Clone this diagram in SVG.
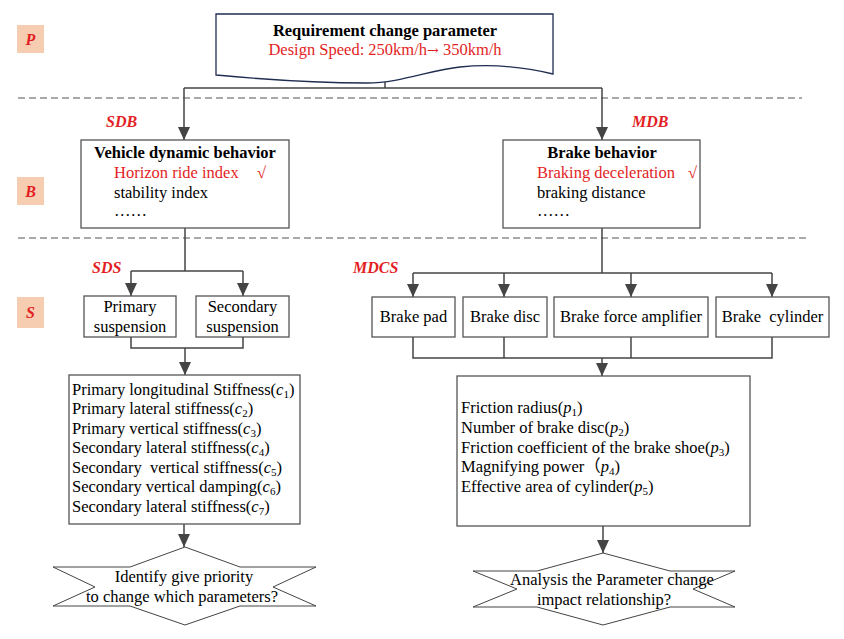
<svg xmlns="http://www.w3.org/2000/svg" width="844" height="639" viewBox="0 0 844 639">
<defs>
<marker id="arr" markerUnits="userSpaceOnUse" markerWidth="13" markerHeight="12" refX="13" refY="6" orient="auto" viewBox="0 0 13 12">
<path d="M0,0 L13,6 L0,12 Z" fill="#444"/>
</marker>
<style>
text{font-family:"Liberation Serif","Times New Roman",serif;font-size:16.5px;fill:#000}
.b{font-weight:bold}
.red{fill:#e31e24}
.lab{font-weight:bold;font-style:italic;fill:#e31e24;font-size:16px}
.box{fill:#fff;stroke:#555;stroke-width:1.3}
.tag{fill:#f6cdb0;stroke:none}
.dash{stroke:#555;stroke-width:1.1;stroke-dasharray:7 4;fill:none}
.con{stroke:#444;stroke-width:1.5;fill:none}
.it{font-style:italic}
.sub{font-size:11px}
</style>
</defs>
<rect width="844" height="639" fill="#fff"/>

<g id="dashes">
<line class="dash" x1="18" y1="98" x2="802" y2="98"/>
<line class="dash" x1="18" y1="238" x2="808" y2="238"/>
</g>

<g id="tagP"><rect class="tag" x="17" y="25" width="27" height="28"/><text class="lab" x="30.5" y="45" text-anchor="middle">P</text></g>
<g id="tagB"><rect class="tag" x="17" y="177" width="27" height="28"/><text class="lab" x="30.5" y="197" text-anchor="middle">B</text></g>
<g id="tagS"><rect class="tag" x="17" y="297" width="27" height="31"/><text class="lab" x="30.5" y="318" text-anchor="middle">S</text></g>

<g id="connectors">
<path class="con" d="M385,82 V88"/>
<path class="con" d="M184,88 H602"/>
<path class="con" d="M184,88 V140" marker-end="url(#arr)"/>
<path class="con" d="M602,88 V140" marker-end="url(#arr)"/>
<path class="con" d="M185,228 V271"/>
<path class="con" d="M131,271 H243"/>
<path class="con" d="M131,271 V296" marker-end="url(#arr)"/>
<path class="con" d="M243,271 V296" marker-end="url(#arr)"/>
<path class="con" d="M131,337 V348 H243 V337"/>
<path class="con" d="M185,348 V375" marker-end="url(#arr)"/>
<path class="con" d="M184,524 V547" marker-end="url(#arr)"/>
<path class="con" d="M602,228 V273"/>
<path class="con" d="M413,273 H772"/>
<path class="con" d="M413,273 V297" marker-end="url(#arr)"/>
<path class="con" d="M504,273 V297" marker-end="url(#arr)"/>
<path class="con" d="M631,273 V297" marker-end="url(#arr)"/>
<path class="con" d="M772,273 V297" marker-end="url(#arr)"/>
<path class="con" d="M413,337 V358 H772 V337"/>
<path class="con" d="M504,337 V358"/>
<path class="con" d="M631,337 V358"/>
<path class="con" d="M602,358 V376" marker-end="url(#arr)"/>
<path class="con" d="M603,526 V553" marker-end="url(#arr)"/>
</g>

<g id="requirement">
<path d="M216,14 H553 V74 C520,66 490,64 460,67 C430,70 400,83 367,83 C330,83 290,82 216,75 Z" fill="#fff" stroke="#1f2d50" stroke-width="1.3"/>
<text class="b" x="385" y="36" text-anchor="middle">Requirement change parameter</text>
<text class="red" x="385" y="55" text-anchor="middle">Design Speed: 250km/h<tspan style="font-family:'DejaVu Serif',serif;font-size:14px">→</tspan> 350km/h</text>
</g>

<g id="sdb"><text class="lab" x="106" y="127">SDB</text></g>
<g id="mdb"><text class="lab" x="632" y="127">MDB</text></g>
<g id="sds"><text class="lab" x="92" y="273">SDS</text></g>
<g id="mdcs"><text class="lab" x="353" y="273">MDCS</text></g>

<g id="vehicle">
<rect class="box" x="81" y="140" width="208" height="88"/>
<text class="b" x="185" y="158" text-anchor="middle">Vehicle dynamic behavior</text>
<text class="red" x="114" y="178">Horizon ride index</text>
<text class="red" x="257" y="178">√</text>
<text x="114" y="198">stability index</text>
<text x="114" y="216">……</text>
</g>

<g id="brake">
<rect class="box" x="503" y="140" width="197" height="88"/>
<text class="b" x="602" y="158" text-anchor="middle">Brake behavior</text>
<text class="red" x="537" y="178">Braking deceleration</text>
<text class="red" x="688" y="178">√</text>
<text x="537" y="198">braking distance</text>
<text x="537" y="216">……</text>
</g>

<g id="primary">
<rect class="box" x="84" y="296" width="92" height="41"/>
<text x="130" y="312" text-anchor="middle">Primary</text>
<text x="130" y="332" text-anchor="middle">suspension</text>
</g>
<g id="secondary">
<rect class="box" x="196" y="296" width="93" height="41"/>
<text x="242.5" y="312" text-anchor="middle">Secondary</text>
<text x="242.5" y="332" text-anchor="middle">suspension</text>
</g>

<g id="brakepad"><rect class="box" x="372" y="297" width="83" height="40"/><text x="413.5" y="322" text-anchor="middle">Brake pad</text></g>
<g id="brakedisc"><rect class="box" x="463" y="297" width="84" height="40"/><text x="505" y="322" text-anchor="middle">Brake disc</text></g>
<g id="amplifier"><rect class="box" x="554" y="297" width="154" height="40"/><text x="631" y="322" text-anchor="middle">Brake force amplifier</text></g>
<g id="cylinder"><rect class="box" x="716" y="297" width="113" height="40"/><text x="772.5" y="322" text-anchor="middle" xml:space="preserve">Brake  cylinder</text></g>

<g id="suspparams">
<rect class="box" x="69" y="375" width="231" height="149"/>
<text x="72" y="395">Primary longitudinal Stiffness(<tspan class="it">c</tspan><tspan class="sub" dy="3">1</tspan><tspan dy="-3">)</tspan></text>
<text x="72" y="414">Primary lateral stiffness(<tspan class="it">c</tspan><tspan class="sub" dy="3">2</tspan><tspan dy="-3">)</tspan></text>
<text x="72" y="434">Primary vertical stiffness(<tspan class="it">c</tspan><tspan class="sub" dy="3">3</tspan><tspan dy="-3">)</tspan></text>
<text x="72" y="453">Secondary lateral stiffness(<tspan class="it">c</tspan><tspan class="sub" dy="3">4</tspan><tspan dy="-3">)</tspan></text>
<text x="72" y="473" xml:space="preserve">Secondary  vertical stiffness(<tspan class="it">c</tspan><tspan class="sub" dy="3">5</tspan><tspan dy="-3">)</tspan></text>
<text x="72" y="492">Secondary vertical damping(<tspan class="it">c</tspan><tspan class="sub" dy="3">6</tspan><tspan dy="-3">)</tspan></text>
<text x="72" y="512">Secondary lateral stiffness(<tspan class="it">c</tspan><tspan class="sub" dy="3">7</tspan><tspan dy="-3">)</tspan></text>
</g>

<g id="brakeparams">
<rect class="box" x="457" y="376" width="293" height="150"/>
<text x="461" y="413">Friction radius(<tspan class="it">p</tspan><tspan class="sub" dy="3">1</tspan><tspan dy="-3">)</tspan></text>
<text x="461" y="433">Number of brake disc(<tspan class="it">p</tspan><tspan class="sub" dy="3">2</tspan><tspan dy="-3">)</tspan></text>
<text x="461" y="453">Friction coefficient of the brake shoe(<tspan class="it">p</tspan><tspan class="sub" dy="3">3</tspan><tspan dy="-3">)</tspan></text>
<text x="461" y="472">Magnifying power<tspan style="font-family:'Noto Sans CJK SC',sans-serif">（</tspan><tspan class="it">p</tspan><tspan class="sub" dy="3">4</tspan><tspan dy="-3">)</tspan></text>
<text x="461" y="492">Effective area of cylinder(<tspan class="it">p</tspan><tspan class="sub" dy="3">5</tspan><tspan dy="-3">)</tspan></text>
</g>

<g id="decision1">
<polygon points="185,547 130,567 53,567 95,587 53,606 130,606 185,625 240,606 316,606 273,587 316,567 240,567" fill="#fff" stroke="#444" stroke-width="1"/>
<text x="184" y="582" text-anchor="middle">Identify give priority</text>
<text x="182" y="602" text-anchor="middle">to change which parameters?</text>
</g>

<g id="decision2">
<polygon points="603,553 537,571 473,571 517,589 473,607 537,607 603,625 670,607 735,607 693,589 735,571 670,571" fill="#fff" stroke="#444" stroke-width="1"/>
<text x="612" y="585" text-anchor="middle">Analysis the Parameter change</text>
<text x="604" y="605" text-anchor="middle">impact relationship?</text>
</g>
</svg>
